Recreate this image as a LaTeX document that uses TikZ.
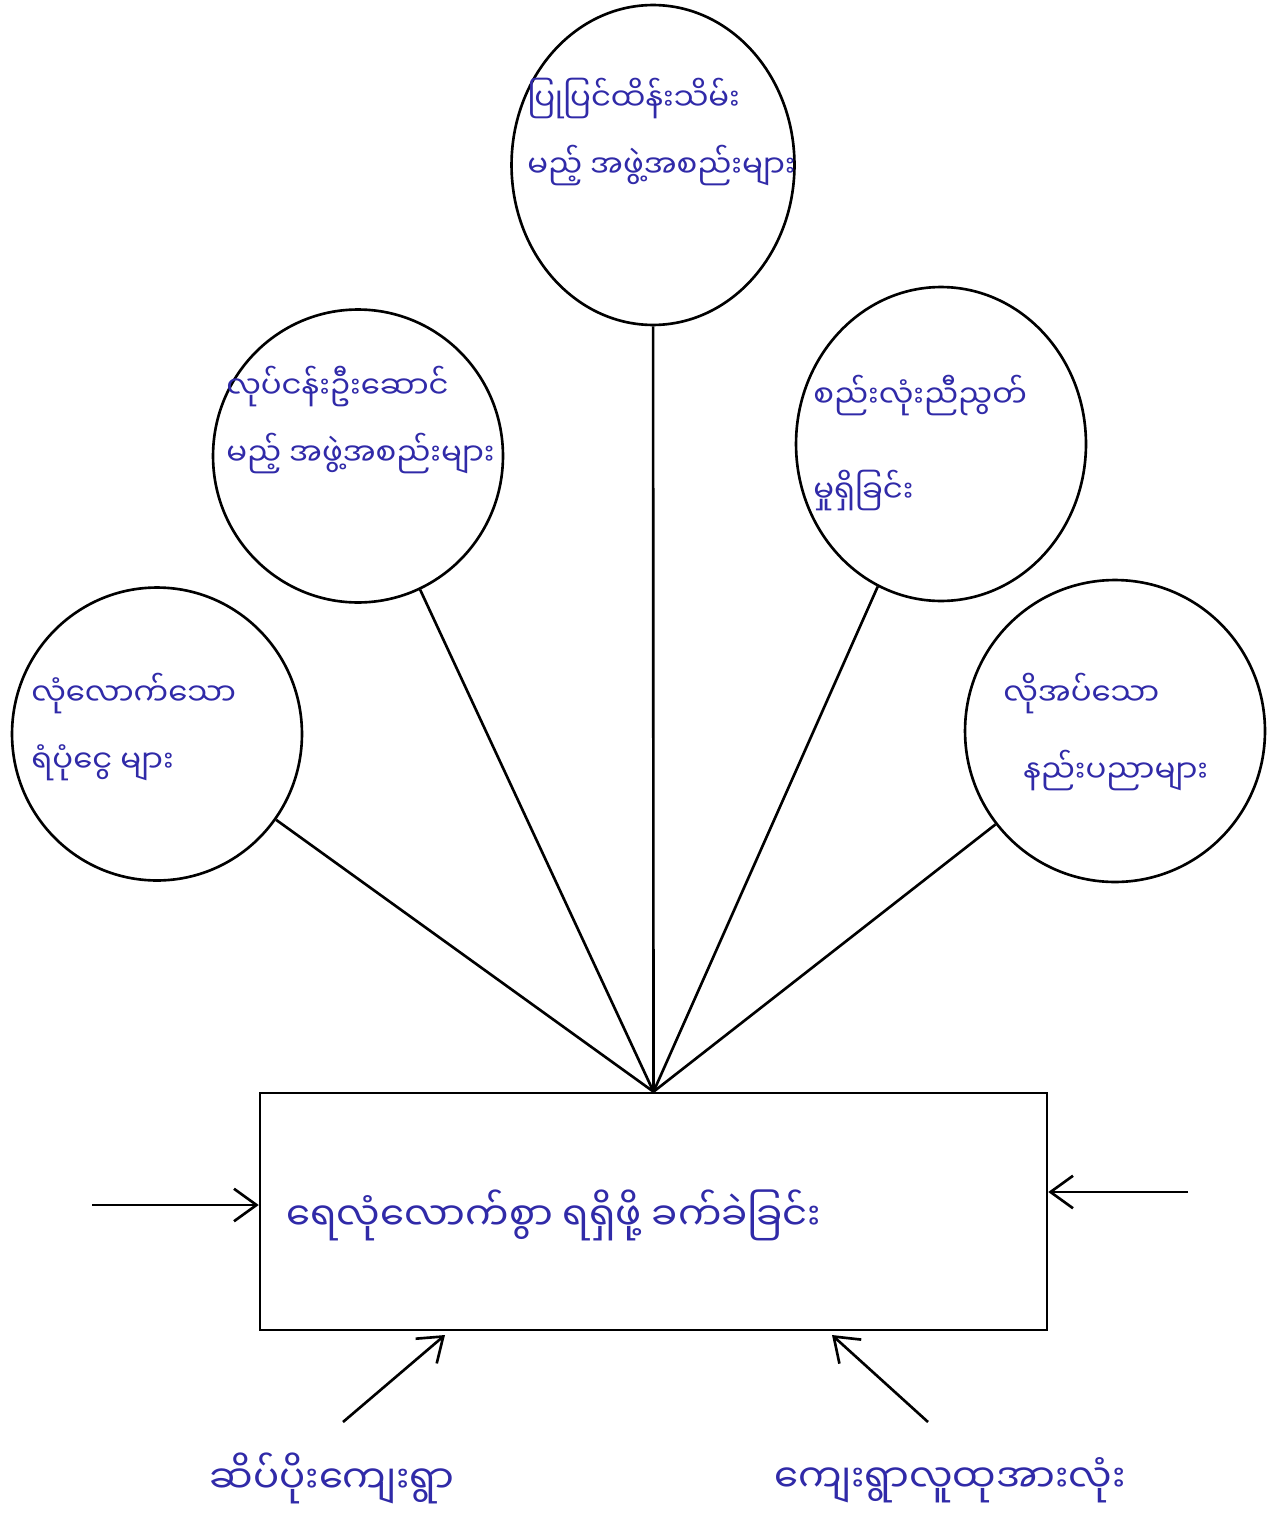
\documentclass[tikz,border=0pt]{standalone}
\usepackage{fontspec}
\usetikzlibrary{shapes.geometric,arrows.meta}
\newfontfamily\mmfont[Script=Myanmar]{Noto Sans Myanmar UI}
\definecolor{ink}{RGB}{48,42,168}

\begin{document}
\begin{tikzpicture}[x=0.02cm, y=-0.02cm, line width=1.5pt,
    >={Straight Barb[length=4.5mm,width=6.5mm]},
    bubble/.style={draw, ellipse, inner sep=0pt},
    hand/.style={text=ink, font=\mmfont\fontsize{22}{40}\selectfont, align=left, inner sep=0pt},
    small/.style={hand, font=\mmfont\fontsize{17.5}{38}\selectfont}]
\useasboundingbox (0,0) rectangle (1274,1524);

% the problem box
\node[draw, minimum width=15.74cm, minimum height=4.74cm] (box) at (653.5,1211.5) {};
\node[hand, anchor=west] (water) at (285,1215) {ရေလုံလောက်စွာ ရရှိဖို့ ခက်ခဲခြင်း};
\coordinate (apex) at (box.north);

% bubbles round it
\node[bubble, minimum width=5.66cm, minimum height=6.4cm] (repair) at (653,165) {};
\node[bubble, minimum width=5.8cm, minimum height=5.86cm] (lead) at (358,456) {};
\node[bubble, minimum width=5.8cm, minimum height=6.28cm] (unity) at (941,444) {};
\node[bubble, minimum width=5.8cm, minimum height=5.86cm] (fund) at (157,734) {};
\node[bubble, minimum width=6cm, minimum height=6.04cm] (tech) at (1115,731) {};

\node[small, anchor=west] (repairtxt) at (526,132) {ပြုပြင်ထိန်းသိမ်း\\မည့် အဖွဲ့အစည်းများ};
\node[small, anchor=west] (leadtxt) at (225,420) {လုပ်ငန်းဦးဆောင်\\မည့် အဖွဲ့အစည်းများ};
\node[small, anchor=west] (unitytxt) at (812,443) {စည်းလုံးညီညွတ်\\[16pt]မှုရှိခြင်း};
\node[small, anchor=west] (fundtxt) at (30,727) {လုံလောက်သော\\ရံပုံငွေ များ};
\node[small, anchor=west] (techtxt) at (1002,732) {လိုအပ်သော\\[6pt]\hspace{0.4cm}နည်းပညာများ};

\foreach \b in {repair,lead,unity,fund,tech}
  \draw (\b) -- (apex);

% the arrows into the box
\coordinate (lin) at (92,1205);
\coordinate (rin) at (1188,1192);
\draw[->] (lin) -- (box.west |- lin);
\draw[->] (rin) -- (box.east |- rin);

\node[hand] (village) at (332,1478) {ဆိပ်ပိုးကျေးရွာ};
\node[hand] (people) at (950,1480) {ကျေးရွာလူထုအားလုံး};
\coordinate (vfrom) at (343,1422);
\coordinate (vto) at (445,1335);
\coordinate (pfrom) at (928,1422);
\coordinate (pto) at (832,1335);
\draw[->] (vfrom) -- (vto);
\draw[->] (pfrom) -- (pto);
\end{tikzpicture}
\end{document}
